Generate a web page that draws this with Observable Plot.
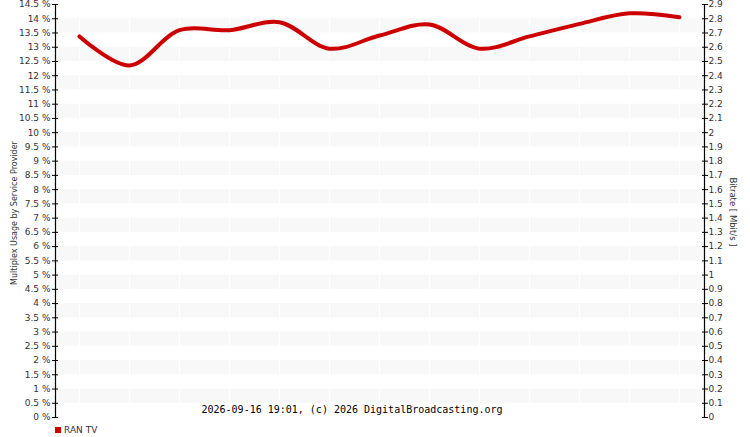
<!DOCTYPE html>
<html>
<head>
<meta charset="utf-8">
<script src="https://cdn.jsdelivr.net/npm/d3@7"></script>
<script src="https://cdn.jsdelivr.net/npm/@observablehq/plot@0.6"></script>
<style>
  body { margin: 0; background: #fff; font-family: "DejaVu Sans", Verdana, sans-serif; }
  #chart { position: relative; width: 750px; }
  #chart svg { display: block; }
  .legend { display: flex; align-items: center; margin-left: 55px; margin-top: 1px; font-size: 9px; color: #333; }
  .legend .sw { width: 6px; height: 6px; background: #cc0000; margin-right: 3px; }
</style>
</head>
<body>
<div id="chart"></div>
<script>
// ---- data ----
const slots = [0, 1, 2, 3, 4, 5, 6, 7, 8, 9, 10, 11, 12];
const usage = [13.38, 12.36, 13.6, 13.6, 13.88, 12.95, 13.41, 13.8, 12.95, 13.38, 13.82, 14.19, 14.05];
const seriesName = "RAN TV";
const leftTicks = [0, 0.5, 1, 1.5, 2, 2.5, 3, 3.5, 4, 4.5, 5, 5.5, 6, 6.5, 7, 7.5, 8, 8.5, 9, 9.5, 10, 10.5, 11, 11.5, 12, 12.5, 13, 13.5, 14, 14.5];
const rightTicks = [0, 0.1, 0.2, 0.3, 0.4, 0.5, 0.6, 0.7, 0.8, 0.9, 1, 1.1, 1.2, 1.3, 1.4, 1.5, 1.6, 1.7, 1.8, 1.9, 2, 2.1, 2.2, 2.3, 2.4, 2.5, 2.6, 2.7, 2.8, 2.9];
const bandLow = [0.5, 1.5, 2.5, 3.5, 4.5, 5.5, 6.5, 7.5, 8.5, 9.5, 10.5, 11.5, 12.5, 13.5];
const caption = "2026-09-16 19:01, (c) 2026 DigitalBroadcasting.org";
const mbitPerPercent = 0.2;

const rows = slots.map((s, i) => ({slot: s, value: usage[i]}));
const bands = bandLow.map(b => ({y1: b, y2: b + 0.5}));

const chart = Plot.plot({
  width: 750,
  height: 424,
  marginLeft: 55,
  marginRight: 46,
  marginTop: 4,
  marginBottom: 7,
  style: {fontFamily: "DejaVu Sans, Verdana, sans-serif", fontSize: "9px", color: "#333", background: "#fff"},
  x: {domain: [-0.48, 12.5], axis: null},
  y: {domain: [0, 14.5]},
  marks: [
    Plot.rectY(bands, {y1: "y1", y2: "y2", fill: "#f8f8f8"}),
    Plot.ruleX(slots, {x: d => d, stroke: "#fff", strokeWidth: 1}),
    Plot.axisY({anchor: "left", ticks: leftTicks, tickFormat: d => d + " %", tickSize: 3, tickPadding: 2, label: null, color: "#333", stroke: "#000"}),
    Plot.axisY({anchor: "left", ticks: leftTicks, text: null, tickSize: -3, label: null, stroke: "#000"}),
    Plot.axisY({anchor: "right", ticks: leftTicks, tickFormat: d => String(Math.round(d * mbitPerPercent * 10) / 10), tickSize: 3, tickPadding: 1, label: null, color: "#333", stroke: "#000"}),
    Plot.axisY({anchor: "right", ticks: leftTicks, text: null, tickSize: -3, label: null, stroke: "#000"}),
    Plot.ruleX([-0.48], {stroke: "#000", strokeWidth: 1.2}),
    Plot.ruleX([12.5], {stroke: "#000", strokeWidth: 1.2}),
    Plot.lineY(rows, {x: "slot", y: "value", stroke: "#cc0000", strokeWidth: 4, curve: "catmull-rom"}),
    Plot.text([caption], {text: d => d, frameAnchor: "bottom", dx: -28, dy: -5, fontFamily: "DejaVu Sans Mono, monospace", fontSize: 10, fill: "#000"})
  ]
});

const svg = d3.select(chart);
svg.append("text")
  .attr("transform", "translate(17,213) rotate(-90)")
  .attr("text-anchor", "middle")
  .attr("font-size", 8)
  .attr("fill", "#333")
  .text("Multiplex Usage by Service Provider");
svg.append("text")
  .attr("transform", "translate(730,212) rotate(90)")
  .attr("text-anchor", "middle")
  .attr("font-size", 8.5)
  .attr("fill", "#333")
  .text("Bitrate [ Mbit/s ]");

const container = document.getElementById("chart");
container.appendChild(chart);
const legend = document.createElement("div");
legend.className = "legend";
legend.innerHTML = `<span class="sw"></span><span></span>`;
legend.lastChild.textContent = seriesName;
container.appendChild(legend);
</script>
</body>
</html>
